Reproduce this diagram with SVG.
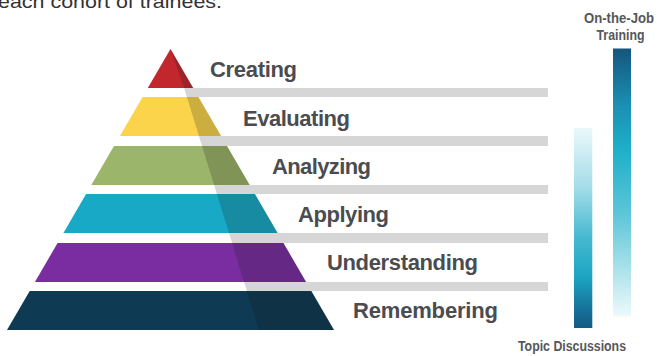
<svg xmlns="http://www.w3.org/2000/svg" width="657" height="356" viewBox="0 0 657 356">
  <defs>
    <linearGradient id="gradJob" x1="0" y1="0" x2="0" y2="1">
      <stop offset="0" stop-color="#14557d"/>
      <stop offset="0.2" stop-color="#1a8db0"/>
      <stop offset="0.38" stop-color="#1eb0c9"/>
      <stop offset="0.62" stop-color="#5ec6d9"/>
      <stop offset="0.82" stop-color="#a9e1eb"/>
      <stop offset="1" stop-color="#eef9fb"/>
    </linearGradient>
    <linearGradient id="gradTopic" x1="0" y1="0" x2="0" y2="1">
      <stop offset="0" stop-color="#eaf8fb"/>
      <stop offset="0.3" stop-color="#a3dce8"/>
      <stop offset="0.55" stop-color="#45b9d0"/>
      <stop offset="0.75" stop-color="#1ba4c1"/>
      <stop offset="0.9" stop-color="#17739b"/>
      <stop offset="1" stop-color="#135a80"/>
    </linearGradient>
  </defs>
  <style>
    .label { font-family: "Liberation Sans", Arial, sans-serif; font-weight: 700; font-size: 22px; fill: #4a4c50; }
    .small { font-family: "Liberation Sans", Arial, sans-serif; font-weight: 700; font-size: 14px; fill: #55575b; }
    .intro { font-family: "Liberation Sans", Arial, sans-serif; font-size: 19px; fill: #333333; }
    .shade { fill: #141414; fill-opacity: 0.2; }
    .ledge { fill: #d6d6d6; }
  </style>

  <rect width="657" height="356" fill="#ffffff"/>

  <text class="intro" x="-2" y="8" textLength="224" lengthAdjust="spacingAndGlyphs">each cohort of trainees.</text>

  <!-- grey ledges running from the pyramid's shaded side -->
  <g id="ledges">
    <polygon class="ledge" points="184.1,88 548,88 548,97 186.9,97"/>
    <polygon class="ledge" points="198.9,136 548,136 548,146 202,146"/>
    <polygon class="ledge" points="214.1,185 548,185 548,194 216.9,194"/>
    <polygon class="ledge" points="229,233 548,233 548,243 232.1,243"/>
    <polygon class="ledge" points="244.1,282 548,282 548,291 246.9,291"/>
  </g>

  <g id="creating">
    <polygon fill="#c1272d" points="170.5,49 193.2,88 147.8,88"/>
    <polygon class="shade" points="170.5,49 193.2,88 184.1,88"/>
    <text class="label" x="210" y="77" textLength="87">Creating</text>
  </g>

  <g id="evaluating">
    <polygon fill="#fbd44c" points="142.6,97 198.4,97 221.1,136 119.9,136"/>
    <polygon class="shade" points="186.9,97 198.4,97 221.1,136 198.9,136"/>
    <text class="label" x="243" y="125.5" textLength="107">Evaluating</text>
  </g>

  <g id="analyzing">
    <polygon fill="#9bb56a" points="114,146 227,146 249.7,185 91.3,185"/>
    <polygon class="shade" points="202,146 227,146 249.7,185 214.1,185"/>
    <text class="label" x="272" y="173.5" textLength="99">Analyzing</text>
  </g>

  <g id="applying">
    <polygon fill="#17a9c6" points="86.1,194 254.9,194 277.6,233 63.4,233"/>
    <polygon class="shade" points="216.9,194 254.9,194 277.6,233 229,233"/>
    <text class="label" x="298" y="222" textLength="91">Applying</text>
  </g>

  <g id="understanding">
    <polygon fill="#7a2da0" points="57.6,243 283.4,243 306.1,282 34.9,282"/>
    <polygon class="shade" points="232.1,243 283.4,243 306.1,282 244.1,282"/>
    <text class="label" x="327" y="270" textLength="151">Understanding</text>
  </g>

  <g id="remembering">
    <polygon fill="#0e3a53" points="29.7,291 311.3,291 334,330 7,330"/>
    <polygon class="shade" points="246.9,291 311.3,291 334,330 259,330"/>
    <text class="label" x="353" y="318" textLength="145">Remembering</text>
  </g>

  <g id="on-the-job">
    <rect x="613" y="48.5" width="18" height="268" fill="url(#gradJob)"/>
    <text class="small" x="619" y="23" text-anchor="middle" textLength="70" lengthAdjust="spacingAndGlyphs">On-the-Job</text>
    <text class="small" x="620.5" y="39.5" text-anchor="middle" textLength="48" lengthAdjust="spacingAndGlyphs">Training</text>
  </g>

  <g id="topic-discussions">
    <rect x="574" y="128" width="18.3" height="200" fill="url(#gradTopic)"/>
    <text class="small" x="572" y="351" text-anchor="middle" font-size="13" textLength="108" lengthAdjust="spacingAndGlyphs">Topic Discussions</text>
  </g>
</svg>
